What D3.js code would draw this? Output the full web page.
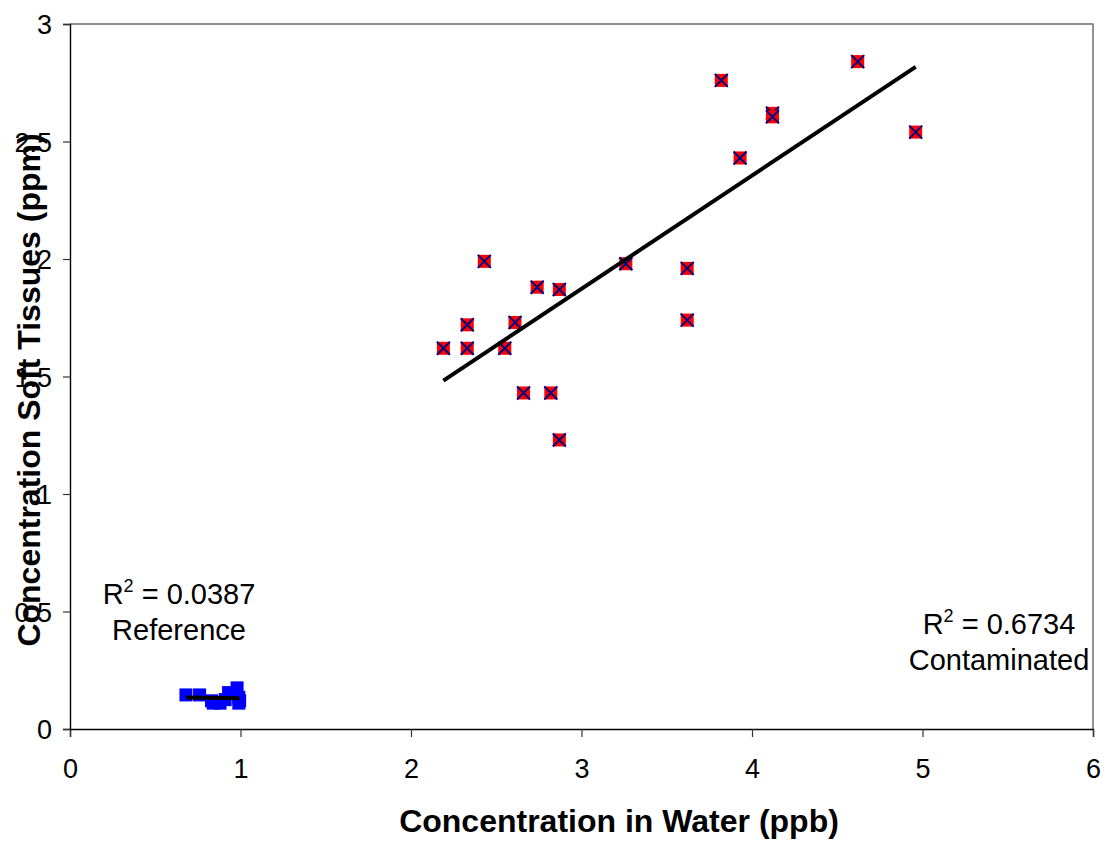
<!DOCTYPE html>
<html>
<head>
<meta charset="utf-8">
<script src="https://cdn.jsdelivr.net/npm/d3@7"></script>
<style>
  body { margin: 0; background: #fff; }
  svg { display: block; }
  text { font-family: "Liberation Sans", Arial, Helvetica, sans-serif; fill: #000; }
</style>
</head>
<body>
<svg id="chart" width="1112" height="856"></svg>
<script>
// Axis ticks
const xTicks = [0, 1, 2, 3, 4, 5, 6];
const yTicks = [0, 0.5, 1, 1.5, 2, 2.5, 3];

// Reference site samples (water ppb, soft tissue ppm)
const refX = [0.68, 0.76, 0.83, 0.84, 0.88, 0.91, 0.93, 0.98, 0.99, 0.99, 0.995];
const refY = [0.145, 0.145, 0.12, 0.11, 0.11, 0.125, 0.155, 0.175, 0.11, 0.135, 0.12];

// Contaminated site samples
const contX = [2.19, 2.33, 2.33, 2.43, 2.55, 2.61, 2.66, 2.74, 2.82, 2.87,
               2.87, 3.26, 3.62, 3.62, 3.82, 3.93, 4.12, 4.12, 4.62, 4.96];
const contY = [1.62, 1.72, 1.62, 1.99, 1.62, 1.73, 1.43, 1.88, 1.43, 1.87,
               1.23, 1.98, 1.96, 1.74, 2.76, 2.43, 2.62, 2.605, 2.84, 2.54];

// Trendline annotations
const refR2 = "0.0387", refName = "Reference";
const contR2 = "0.6734", contName = "Contaminated";

const xTitle = "Concentration in Water (ppb)";
const yTitle = "Concentration Soft Tissues (ppm)";

const svg = d3.select("#chart");
const plot = { left: 70, right: 1093, top: 24, bottom: 729 };

const x = d3.scaleLinear().domain([0, 6]).range([plot.left, plot.right]);
const y = d3.scaleLinear().domain([0, 3]).range([plot.bottom, plot.top]);

// Plot frame (top and right)
svg.append("path")
  .attr("d", `M${plot.left},${plot.top}H${plot.right}V${plot.bottom}`)
  .attr("fill", "none").attr("stroke", "#6e6e6e").attr("stroke-width", 1.5);

// Axes
const fmt = d => String(d);
const xAxis = svg.append("g")
  .attr("transform", `translate(0,${plot.bottom})`)
  .call(d3.axisBottom(x).tickValues(xTicks).tickFormat(fmt).tickSize(8).tickPadding(22));
const yAxis = svg.append("g")
  .attr("transform", `translate(${plot.left},0)`)
  .call(d3.axisLeft(y).tickValues(yTicks).tickFormat(fmt).tickSize(7).tickPadding(11));

[xAxis, yAxis].forEach(a => {
  a.select(".domain").attr("stroke", "#000").attr("stroke-width", 1.4);
  a.selectAll(".tick line").attr("stroke", "#333").attr("stroke-width", 1.2);
  a.selectAll(".tick text")
    .attr("font-family", '"Liberation Sans", Arial, sans-serif')
    .attr("font-size", 27).attr("fill", "#000");
});
yAxis.selectAll(".tick text").attr("dy", "0.36em");

// Linear regression helper
function linreg(xs, ys) {
  const mx = d3.mean(xs), my = d3.mean(ys);
  let sxy = 0, sxx = 0;
  xs.forEach((v, i) => { sxy += (v - mx) * (ys[i] - my); sxx += (v - mx) * (v - mx); });
  const b = sxy / sxx;
  return { b, a: my - b * mx };
}

// Reference markers: blue squares
const ms = 13;
svg.append("g").selectAll("rect")
  .data(d3.range(refX.length))
  .join("rect")
  .attr("x", i => x(refX[i]) - ms / 2)
  .attr("y", i => y(refY[i]) - ms / 2)
  .attr("width", ms).attr("height", ms)
  .attr("fill", "#0000ff");

// Contaminated markers: red squares with navy cross
const cg = svg.append("g").selectAll("g")
  .data(d3.range(contX.length))
  .join("g")
  .attr("transform", i => `translate(${x(contX[i])},${y(contY[i])})`);
cg.append("rect")
  .attr("x", -ms / 2).attr("y", -ms / 2)
  .attr("width", ms).attr("height", ms)
  .attr("fill", "#ff0000");
cg.append("path")
  .attr("d", `M${-ms/2},${-ms/2}L${ms/2},${ms/2}M${ms/2},${-ms/2}L${-ms/2},${ms/2}`)
  .attr("stroke", "#000080").attr("stroke-width", 2).attr("fill", "none");

// Trendlines over each group's x-range
function trend(xs, ys) {
  const { a, b } = linreg(xs, ys);
  const x0 = d3.min(xs), x1 = d3.max(xs);
  svg.append("line")
    .attr("x1", x(x0)).attr("y1", y(a + b * x0))
    .attr("x2", x(x1)).attr("y2", y(a + b * x1))
    .attr("stroke", "#000").attr("stroke-width", 4);
}
trend(refX, refY);
trend(contX, contY);

// R² annotations
function r2Label(cx, by, r2, name) {
  const t = svg.append("text")
    .attr("x", cx).attr("y", by)
    .attr("text-anchor", "middle").attr("font-size", 29);
  t.append("tspan").text("R");
  t.append("tspan").attr("font-size", 18).attr("dy", -12).text("2");
  t.append("tspan").attr("dy", 12).text(" = " + r2);
  svg.append("text")
    .attr("x", cx).attr("y", by + 36)
    .attr("text-anchor", "middle").attr("font-size", 29)
    .text(name);
}
r2Label(179, 604, refR2, refName);
r2Label(999, 634, contR2, contName);

// Axis titles
svg.append("text")
  .attr("x", 619).attr("y", 832)
  .attr("text-anchor", "middle")
  .attr("font-size", 32).attr("font-weight", "bold")
  .text(xTitle);
svg.append("text")
  .attr("transform", "translate(40,390) rotate(-90)")
  .attr("text-anchor", "middle")
  .attr("font-size", 32).attr("font-weight", "bold")
  .text(yTitle);
</script>
</body>
</html>
